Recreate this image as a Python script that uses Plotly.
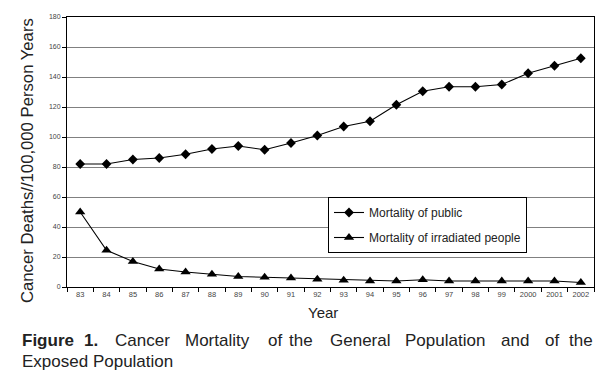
import plotly.graph_objects as go

years = ["83", "84", "85", "86", "87", "88", "89", "90", "91", "92", "93",
         "94", "95", "96", "97", "98", "99", "2000", "2001", "2002"]
public = [82, 82, 85, 86, 88.5, 92, 94, 91.5, 96, 101, 107,
          110.5, 121.5, 130.5, 133.5, 133.5, 135, 142.5, 147.5, 152.5]
irradiated = [50, 24.5, 17, 12, 10, 8.5, 7, 6.5, 6, 5.2, 4.5,
              4, 4, 4.8, 4, 4, 4, 4, 4, 3]
y_ticks = [0, 20, 40, 60, 80, 100, 120, 140, 160, 180]

ML, MR, MT, MB = 67, 18, 17, 91
W, H = 612, 378
PW, PH = W - ML - MR, H - MT - MB
FONT = "Liberation Sans, Arial, sans-serif"


def px(x):
    return (x - ML) / PW


def py(y):
    return (H - MB - y) / PH


fig = go.Figure()
fig.add_trace(go.Scatter(
    x=years, y=public, mode="lines+markers", name="Mortality of public",
    legendgroup="a",
    line=dict(color="black", width=1.1),
    marker=dict(symbol="diamond", size=7.5, color="black"),
))
fig.add_trace(go.Scatter(
    x=years, y=irradiated, mode="lines+markers", name="Mortality of irradiated people",
    legendgroup="b",
    line=dict(color="black", width=1.1),
    marker=dict(symbol="triangle-up", size=9, color="black"),
))

annotations = [
    dict(text="Cancer Deaths//100,000 Person Years", x=px(27), y=py(161),
         textangle=-90, font=dict(size=16.7, color="#222")),
    dict(text="Year", x=px(323), y=py(312), font=dict(size=15, color="#222")),
    dict(text="Exposed Population", x=px(20), y=py(361), xanchor="left",
         font=dict(size=17, color="#222")),
]
words = [("<b>Figure</b>", 20), ("<b>1.</b>", 82), ("Cancer", 113), ("Mortality", 183),
         ("of", 266), ("the", 287), ("General", 328), ("Population", 403),
         ("and", 499), ("of", 543), ("the", 567)]
for w, x in words:
    annotations.append(dict(text=w, x=px(x), y=py(340), xanchor="left",
                            font=dict(size=17, color="#222")))
for a in annotations:
    a.update(xref="paper", yref="paper", showarrow=False)
    a.setdefault("xanchor", "center")
    a.setdefault("yanchor", "middle")
    a["font"]["family"] = FONT

fig.update_layout(
    width=W, height=H,
    margin=dict(l=ML, r=MR, t=MT, b=MB),
    paper_bgcolor="white", plot_bgcolor="white",
    font=dict(family=FONT, color="#333"),
    showlegend=True,
    legend=dict(x=px(328), y=py(197), xanchor="left", yanchor="top",
                bordercolor="black", borderwidth=1, bgcolor="white",
                font=dict(size=12, color="#222", family=FONT),
                itemwidth=30, traceorder="grouped", tracegroupgap=6),
    annotations=annotations,
    xaxis=dict(type="category", range=[-0.5, 19.5], showline=True, linecolor="black",
               linewidth=1, mirror=True, ticks="outside", ticklen=4, tickcolor="black",
               tickson="boundaries", showgrid=False,
               tickfont=dict(size=7.5, color="#444")),
    yaxis=dict(range=[0, 180], tickvals=y_ticks, showline=True, linecolor="black",
               linewidth=1, mirror=True, ticks="outside", ticklen=4, tickcolor="black",
               showgrid=True, gridcolor="#808080", gridwidth=1, zeroline=False,
               tickfont=dict(size=7, color="#444")),
)

fig.write_html("out.html", config={"displayModeBar": False},
               post_script="document.body.style.margin='0';")
